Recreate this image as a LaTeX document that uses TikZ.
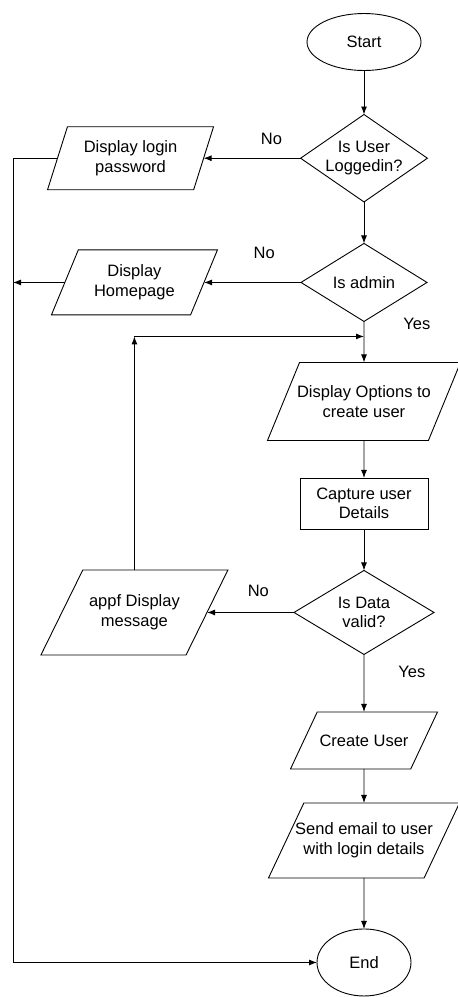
\documentclass[tikz,border=0pt]{standalone}
\usepackage{fontspec}
\setmainfont{Liberation Sans}
\usepackage{tikz}
\usetikzlibrary{arrows.meta,shapes.geometric,positioning}
\tikzset{
    flow/.style={-{Latex[length=8pt, width=6pt]}, line width=0.9pt},
    box/.style={draw, line width=0.9pt, inner sep=0pt, outer sep=0pt, align=center, font=\fontsize{16.5}{19.5}\selectfont},
    terminal/.style={box, ellipse},
    decision/.style={box, diamond, aspect=1.45},
    process/.style={box, rectangle},
    io/.style={box, trapezium, trapezium stretches body, inner xsep=-16pt},
    lbl/.style={inner sep=0pt, font=\fontsize{16.5}{19.5}\selectfont}
}
\begin{document}
\begin{tikzpicture}[node distance=40pt]
                    \useasboundingbox (0,0) rectangle (458pt,-997pt);
                    \node[terminal, minimum width=114pt, minimum height=57pt] (start) at (364pt,-42pt) {Start};
                    \node[decision, minimum width=125pt, minimum height=87pt, below=44pt of start] (user) {Is User\\Loggedin?};
                    \node[decision, minimum width=126pt, minimum height=78pt, below=41.5pt of user] (admin) {Is admin};
                    \node[io, trapezium left angle=44.6, trapezium right angle=135.4, minimum width=193pt, minimum height=78pt, below=41pt of admin] (options) {Display Options to\\create user};
                    \node[process, minimum width=128pt, minimum height=51pt, below=37.5pt of options] (capture) {Capture user\\Details};
                    \node[decision, minimum width=140pt, minimum height=84pt, below=41.5pt of capture] (valid) {Is Data\\valid?};
                    \node[io, trapezium left angle=23.6, trapezium right angle=156.4, minimum width=147pt, minimum height=57pt, below=57.5pt of valid] (create) {Create User};
                    \node[io, trapezium left angle=44.6, trapezium right angle=135.4, minimum width=191pt, minimum height=75pt, below=34pt of create] (email) {Send email to user\\with login details};
                    \node[terminal, minimum width=94pt, minimum height=67pt, below=51pt of email] (finish) {End};
                    \node[io, trapezium left angle=60.3, trapezium right angle=119.7, minimum width=166pt, minimum height=63pt, left=97pt of user] (login) {Display login\\password};
                    \node[io, trapezium left angle=52.4, trapezium right angle=127.6, minimum width=166pt, minimum height=65pt, left=97pt of admin] (home) {Display\\Homepage};
                    \node[io, trapezium left angle=39.8, trapezium right angle=140.2, minimum width=187pt, minimum height=85pt, left=87pt of valid] (msg) {appf Display\\message};
                    \draw[flow] (start) -- (user);
                    \draw[flow] (user.west) -- node[lbl, above=13pt, pos=0.3] (no1) {No} (login.east);
                    \draw[flow] (user) -- (admin);
                    \draw[flow] (admin.west) -- node[lbl, above=23pt, pos=0.38] (no2) {No} (home.east);
                    \draw[flow] (admin) -- node[lbl, right=39pt, pos=0.05] (yes1) {Yes} (options);
                    \draw[flow] (options) -- (capture);
                    \draw[flow] (capture) -- (valid);
                    \draw[flow] (valid.west) -- node[lbl, above=15pt, pos=0.41] (no3) {No} (msg.east);
                    \draw[flow] (valid) -- node[lbl, right=34pt, pos=0.3] (yes2) {Yes} (create);
                    \draw[flow] (create) -- (email);
                    \draw[flow] (email) -- (finish);
                    \coordinate (rail) at (13pt,-500pt);
                    \draw[flow] (login.west) -- (login.west -| rail) |- (finish.west);
                    \draw[flow] (home.west) -- (home.west -| rail);
                    \coordinate[below=15pt of admin.south] (loopjoin);
                    \coordinate (loopcorner) at (msg.north |- loopjoin);
                    \draw[flow] (msg.north) -- (loopcorner);
                    \draw[flow] (loopcorner) -- (loopjoin);
                \end{tikzpicture}
\end{document}
